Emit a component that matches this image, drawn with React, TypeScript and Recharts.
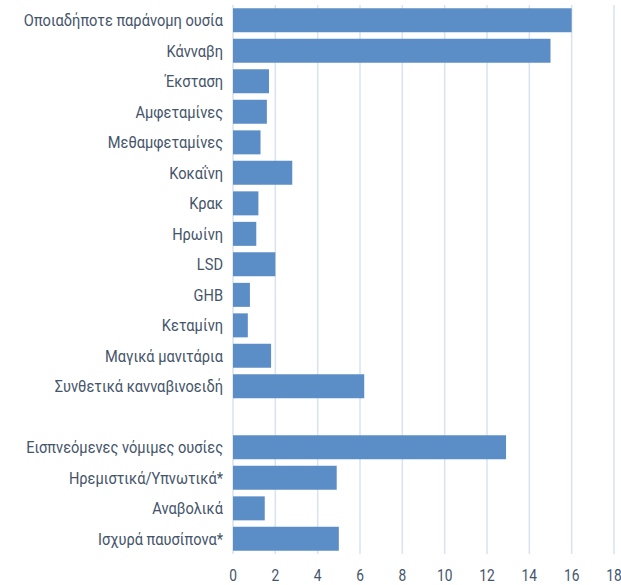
import React from "react";
import { BarChart, Bar, XAxis, YAxis, CartesianGrid } from "recharts";

const categories = [
  "Οποιαδήποτε παράνομη ουσία",
  "Κάνναβη",
  "Έκσταση",
  "Αμφεταμίνες",
  "Μεθαμφεταμίνες",
  "Κοκαΐνη",
  "Κρακ",
  "Ηρωίνη",
  "LSD",
  "GHB",
  "Κεταμίνη",
  "Μαγικά μανιτάρια",
  "Συνθετικά κανναβινοειδή",
  "",
  "Εισπνεόμενες νόμιμες ουσίες",
  "Ηρεμιστικά/Υπνωτικά*",
  "Αναβολικά",
  "Ισχυρά παυσίπονα*",
];

const values: (number | null)[] = [
  16.0, 15.0, 1.7, 1.6, 1.3, 2.8, 1.2, 1.1, 2.0, 0.8, 0.7, 1.8, 6.2, null, 12.9, 4.9, 1.5, 5.0,
];

const xTicks = [0, 2, 4, 6, 8, 10, 12, 14, 16, 18];

const data = categories.map((name, i) => ({ name, value: values[i] }));

const TEXT = "#44546a";
const FONT = "Roboto, 'Liberation Sans', sans-serif";
const SQUEEZE = 0.86;

const YTick = (props: any) => {
  const { x, y, payload } = props;
  return (
    <g transform={`translate(${x},${y}) scale(${SQUEEZE},1)`}>
      <text
        x={0}
        y={0}
        dy="0.355em"
        textAnchor="end"
        fill={TEXT}
        fontSize={17}
        fontFamily={FONT}
      >
        {payload.value}
      </text>
    </g>
  );
};

const XTick = (props: any) => {
  const { x, y, payload } = props;
  return (
    <g transform={`translate(${x},${y}) scale(${SQUEEZE},1)`}>
      <text
        x={0}
        y={0}
        dy="0.71em"
        textAnchor="middle"
        fill={TEXT}
        fontSize={16}
        fontFamily={FONT}
      >
        {payload.value}
      </text>
    </g>
  );
};

export default function App() {
  return (
    <div style={{ position: "absolute", left: 0, top: 0 }}>
      <BarChart
        width={621}
        height={585}
        data={data}
        layout="vertical"
        margin={{ top: 5, right: 7, left: 0, bottom: 0 }}
        barCategoryGap="11%"
      >
        <CartesianGrid horizontal={false} vertical={true} stroke="#d9e2f1" strokeWidth={1.5} />
        <XAxis
          type="number"
          domain={[0, 18]}
          ticks={xTicks}
          axisLine={false}
          tickLine={false}
          height={31}
          tickMargin={10}
          tick={<XTick />}
          interval={0}
        />
        <YAxis
          type="category"
          dataKey="name"
          width={233}
          axisLine={false}
          tickLine={false}
          tickMargin={4}
          interval={0}
          tick={<YTick />}
        />
        <Bar dataKey="value" fill="#5b8ec7" isAnimationActive={false} />
      </BarChart>
    </div>
  );
}
